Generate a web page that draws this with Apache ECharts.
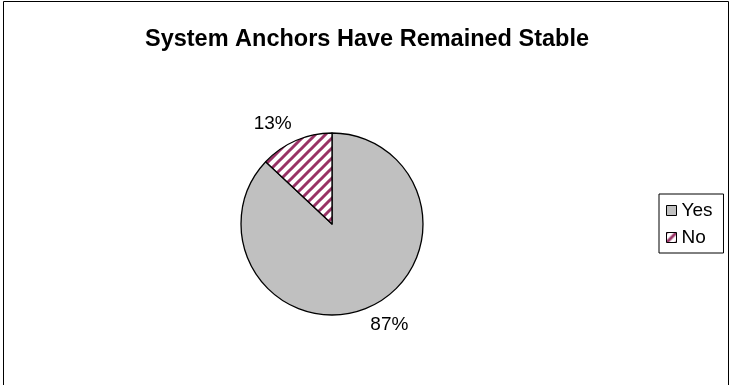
<!DOCTYPE html>
<html>
<head>
<meta charset="utf-8">
<script src="https://cdn.jsdelivr.net/npm/echarts@6/dist/echarts.min.js"></script>
<style>
html,body{margin:0;padding:0;background:#fff;}
#chart{width:731px;height:385px;}
</style>
</head>
<body>
<div id="chart"></div>
<script>
const titleText = 'System Anchors Have Remained Stable';
const categories = ['Yes', 'No'];
const values = [87, 13];

function stripeCanvas() {
  const s = 10;
  const c = document.createElement('canvas');
  c.width = s; c.height = s;
  const g = c.getContext('2d');
  g.fillStyle = '#ffffff';
  g.fillRect(0, 0, s, s);
  g.strokeStyle = '#993366';
  g.lineWidth = 3.0;
  g.beginPath();
  g.moveTo(-2, s + 2); g.lineTo(s + 2, -2);
  g.moveTo(-3, 3); g.lineTo(3, -3);
  g.moveTo(s - 3, s + 3); g.lineTo(s + 3, s - 3);
  g.stroke();
  return c;
}

const colors = ['#C0C0C0', { image: stripeCanvas(), repeat: 'repeat' }];
const FONT = 'Liberation Sans, Arial, sans-serif';
const labelShift = [[-6, 10], [4, -9]];

const chart = echarts.init(document.getElementById('chart'));
chart.setOption({
  animation: false,
  backgroundColor: '#ffffff',
  title: {
    text: titleText,
    left: 362, top: 23, textAlign: 'center',
    textStyle: { fontFamily: FONT, fontSize: 23.5, fontWeight: 'bold', color: '#000' }
  },
  legend: {
    orient: 'vertical',
    left: 659, top: 194,
    itemWidth: 10, itemHeight: 10, itemGap: 8,
    icon: 'rect',
    padding: [7, 11, 6, 7],
    borderColor: '#000', borderWidth: 1,
    textStyle: { fontFamily: FONT, fontSize: 19, color: '#000', padding: [0, 0, 0, 0] },
    itemStyle: { borderColor: '#000', borderWidth: 1 },
    data: categories
  },
  graphic: [{
    type: 'rect', shape: { x: 3.5, y: 1.5, width: 725, height: 390 },
    style: { fill: 'none', stroke: '#000', lineWidth: 1 }, silent: true
  }],
  series: [{
    type: 'pie',
    center: [332, 224],
    radius: 91,
    startAngle: 90,
    clockwise: true,
    color: colors,
    data: categories.map((n, i) => ({ name: n, value: values[i] })),
    itemStyle: { borderColor: '#000', borderWidth: 1.3 },
    label: {
      show: true,
      formatter: p => Math.round(p.percent) + '%',
      fontFamily: FONT, fontSize: 19, color: '#000'
    },
    labelLine: { show: false, length: 8, length2: 0 },
    labelLayout: p => ({ dx: labelShift[p.dataIndex][0], dy: labelShift[p.dataIndex][1] }),
    emphasis: { disabled: true }
  }]
});
</script>
</body>
</html>
